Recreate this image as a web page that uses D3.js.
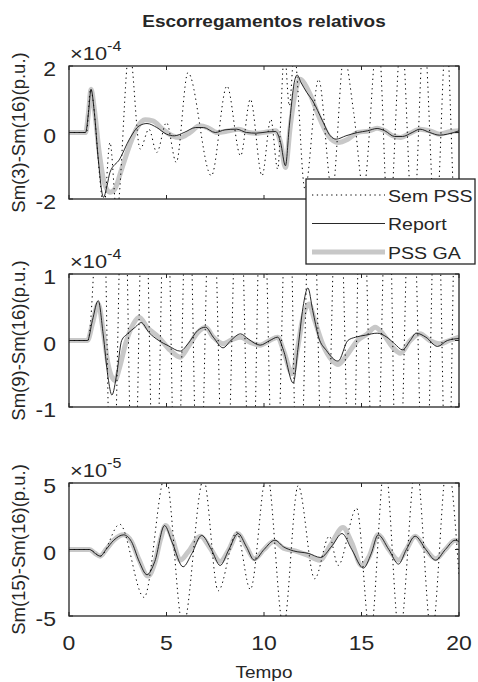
<!DOCTYPE html>
<html>
<head>
<meta charset="utf-8">
<script src="https://cdnjs.cloudflare.com/ajax/libs/d3/7.8.5/d3.min.js"></script>
<style>
  body { margin: 0; background: #fff; }
  text { font-family: "Liberation Sans", Arial, sans-serif; fill: #262626; }
</style>
</head>
<body>
<div id="chart"></div>
<script>
// ---- data (t in s, values in units of the panel exponent) ----
var title = "Escorregamentos relativos";
var xLabel = "Tempo";
var xTicks = [0, 5, 10, 15, 20];
var legendNames = ["Sem PSS", "Report", "PSS GA"];

var yLabels = ["Sm(3)-Sm(16)(p.u.)", "Sm(9)-Sm(16)(p.u.)", "Sm(15)-Sm(16)(p.u.)"];
var exponents = ["-4", "-4", "-5"];
var yDomains = [[-2, 2], [-1, 1], [-5, 5]];
var yTicks = [[-2, 0, 2], [-1, 0, 1], [-5, 0, 5]];

// panel 1 : Sm(3)-Sm(16), x1e-4
var semTop = [[0,0],[0.9,0],[1.1,1.3],[1.8,-2.2],[2.1,-0.3],[2.45,-2.4],[3.1,2.5],[3.65,-0.5],[4.1,0.1],[4.5,-0.6],
  [5.0,0.3],[5.5,-0.9],[6.1,1.8],[7.3,-1.3],[8.1,1.4],[8.8,-0.7],[9.3,1.0],[9.9,-1.3],[10.35,0.4],[10.7,-1.1],
  [11.05,2.4],[11.3,0.8],[11.55,2.4],[12.1,-1.7],[12.8,1.6],[13.5,-1.8],[14.1,2.3],[14.6,0.6],[15.1,-1.7],
  [15.85,3],[16.4,-3],[17.05,3],[17.65,-3],[18.2,3],[18.8,-3],[19.35,3],[19.85,-3],[20,-2]];
var reportTop = [[0,0],[0.85,0],[1.0,0.6],[1.13,1.3],[1.3,0.6],[1.5,-0.8],[1.77,-1.95],[1.95,-1.6],[2.1,-1.2],
  [2.6,-0.8],[3.1,-0.2],[3.6,0.2],[4.0,0.27],[4.5,0.15],[5.0,-0.05],[5.4,-0.1],[5.9,0.0],[6.5,0.15],[6.9,0.15],
  [7.5,0.0],[8.0,0.08],[8.6,0.1],[9.1,0.0],[9.6,-0.02],[10.2,0.02],[10.6,0.03],[10.85,-0.3],[11.1,-1.0],[11.3,0.2],
  [11.55,1.5],[11.7,1.73],[11.9,1.5],[12.2,1.2],[12.5,0.95],[13.0,0.35],[13.4,-0.1],[13.7,-0.2],[14.2,-0.1],
  [14.8,0.0],[15.3,0.05],[15.8,0.12],[16.2,0.05],[16.7,-0.12],[17.1,-0.12],[17.6,0.0],[18.0,0.1],[18.5,0.0],
  [19.0,-0.08],[19.4,-0.05],[20,0.05]];
var gaTop = [[0,0],[0.85,0],[1.0,0.6],[1.13,1.3],[1.3,0.7],[1.55,-0.6],[1.8,-1.5],[2.1,-1.8],[2.35,-1.7],[2.7,-1.1],
  [3.1,-0.4],[3.5,0.15],[3.9,0.38],[4.3,0.35],[4.8,0.1],[5.3,-0.1],[5.7,-0.15],[6.2,0.0],[6.7,0.2],[7.1,0.15],
  [7.6,0.0],[8.2,0.05],[8.7,0.1],[9.2,0.0],[9.7,-0.02],[10.2,0.02],[10.6,0.05],[10.85,-0.3],[11.1,-1.05],[11.35,0.2],
  [11.6,1.2],[11.85,1.6],[12.1,1.45],[12.4,1.1],[12.8,0.5],[13.3,-0.1],[13.8,-0.3],[14.3,-0.2],[14.8,0.0],
  [15.4,0.05],[15.8,0.13],[16.2,0.05],[16.6,-0.1],[17.0,-0.15],[17.5,-0.02],[18.0,0.1],[18.5,0.05],[19.0,-0.05],
  [19.5,0.02],[20,0.05]];

// panel 2 : Sm(9)-Sm(16), x1e-4
var semMid = [[0,0],[0.97,0],[1.7,3],[2.2,-3],[2.8,3],[3.3,-3],[3.85,3],[4.4,-3],[4.97,3],[5.5,-3],[6.1,3],
  [6.65,-3],[7.3,3],[8.0,-3],[8.7,3],[9.35,-3],[9.9,3],[10.55,-3],[11.25,3],[11.75,-3],[12.45,3],[13.1,-3],
  [13.8,3],[14.5,-3],[15.0,3],[15.7,-3],[16.35,3],[16.85,-3],[17.55,3],[18.25,-3],[18.85,3],[19.4,-3],[19.9,3],[20,2.5]];
var reportMid = [[0,0],[0.95,0],[1.2,0.3],[1.5,0.6],[1.75,0.1],[2.0,-0.55],[2.2,-0.82],[2.45,-0.5],[2.7,0.0],
  [3.0,0.1],[3.4,0.2],[3.7,0.27],[4.1,0.12],[4.6,0.0],[5.1,-0.08],[5.7,-0.16],[6.1,-0.05],[6.6,0.15],[7.0,0.2],
  [7.4,0.05],[7.9,-0.11],[8.3,0.0],[8.8,0.1],[9.2,0.02],[9.8,-0.07],[10.3,0.0],[10.7,0.05],[11.0,-0.15],[11.5,-0.64],
  [11.75,-0.1],[12.0,0.5],[12.25,0.79],[12.5,0.45],[12.8,0.05],[13.2,-0.15],[13.8,-0.31],[14.3,0.0],[14.7,0.05],
  [15.2,0.08],[15.8,0.11],[16.3,0.05],[16.7,-0.05],[17.1,-0.14],[17.5,0.0],[17.8,0.11],[18.3,0.05],[18.9,-0.09],
  [19.4,0.0],[20,0.03]];
var gaMid = [[0,0],[0.95,0],[1.2,0.25],[1.5,0.55],[1.75,0.15],[2.0,-0.35],[2.35,-0.6],[2.6,-0.4],[2.9,-0.05],
  [3.3,0.25],[3.6,0.35],[4.0,0.2],[4.6,0.05],[5.2,-0.15],[5.7,-0.25],[6.1,-0.1],[6.6,0.12],[7.0,0.2],[7.4,0.05],
  [7.9,-0.05],[8.4,0.02],[8.8,0.05],[9.3,-0.03],[9.8,-0.07],[10.3,0.0],[10.7,0.05],[11.0,-0.15],[11.45,-0.5],
  [11.7,-0.15],[12.0,0.35],[12.3,0.55],[12.6,0.3],[13.0,-0.05],[13.5,-0.3],[13.8,-0.36],[14.3,-0.2],[14.8,0.0],
  [15.3,0.1],[15.7,0.2],[16.1,0.1],[16.6,-0.1],[17.0,-0.19],[17.5,0.0],[18.0,0.1],[18.5,0.0],[19.0,-0.05],
  [19.5,0.0],[20,0.05]];

// panel 3 : Sm(15)-Sm(16), x1e-5
var semBot = [[0,0],[1.05,0],[1.6,-0.5],[2.6,1.9],[3.85,-3.6],[4.95,5.6],[5.85,-5.8],[6.9,5.3],[7.65,-3.1],
  [8.6,1.3],[9.3,-3.0],[10.15,5.8],[11.0,-5.8],[11.75,4.8],[12.6,-2.2],[13.35,1.0],[13.8,-1.2],[14.75,3.1],
  [15.45,-6.5],[16.2,6.5],[16.95,-6.5],[17.8,6.5],[18.6,-6.5],[19.4,6.5],[20,-2]];
var reportBot = [[0,0],[1.05,0],[1.35,-0.3],[1.6,-0.5],[1.9,0.0],[2.3,0.7],[2.8,1.1],[3.2,0.6],[3.6,-0.9],
  [4.0,-1.9],[4.4,-0.9],[4.9,1.8],[5.3,0.5],[5.85,-1.3],[6.3,-0.3],[6.8,1.06],[7.3,0.0],[7.75,-1.2],[8.2,0.0],
  [8.67,1.2],[9.1,0.2],[9.5,-0.8],[10.0,0.0],[10.56,0.7],[11.0,0.2],[11.5,-0.1],[12.3,-0.3],[12.9,-0.6],
  [13.5,0.3],[14.0,1.2],[14.5,0.0],[15.1,-1.4],[15.5,-0.3],[15.85,1.1],[16.4,0.0],[16.9,-1.1],[17.3,0.0],
  [17.75,1.0],[18.3,0.0],[18.8,-0.8],[19.3,0.0],[19.8,0.7],[20,0.6]];
var gaBot = [[0,0],[1.05,0],[1.35,-0.3],[1.6,-0.5],[1.9,0.0],[2.3,0.7],[2.8,1.1],[3.2,0.6],[3.6,-0.8],
  [4.05,-2.0],[4.4,-1.0],[4.7,0.8],[4.95,1.8],[5.3,0.8],[5.7,-0.8],[6.1,-0.2],[6.75,1.0],[7.2,0.2],[7.75,-0.9],
  [8.2,0.0],[8.65,1.2],[9.1,0.2],[9.5,-0.7],[10.0,0.0],[10.5,0.6],[11.0,0.1],[11.6,-0.1],[12.2,-0.4],[12.85,-0.8],
  [13.4,0.3],[14.05,1.65],[14.5,0.5],[15.0,-1.2],[15.4,-0.5],[15.85,1.1],[16.4,0.0],[16.9,-0.8],[17.3,0.0],
  [17.75,1.0],[18.3,0.0],[18.8,-0.7],[19.3,0.0],[19.8,0.7],[20,0.6]];

var semData = [semTop, semMid, semBot];
var reportData = [reportTop, reportMid, reportBot];
var gaData = [gaTop, gaMid, gaBot];

// ---- layout ----
var W = 478, H = 682;
var left = 69, right = 459;
var panelTop = [66, 274, 483];
var panelH = 133;
var sx = 1.15;              // horizontal stretch of the original bitmap text
var axisCol = "#262626";
var gaCol = "#c8c8c8";

var svg = d3.select("#chart").append("svg")
    .attr("width", W)
    .attr("height", H);

var x = d3.scaleLinear().domain([0, 20]).range([left, right]);

function stretchText(g, tx, ty, str, size, anchor) {
    return g.append("text")
        .attr("transform", "translate(" + tx + "," + ty + ") scale(" + sx + ",1)")
        .attr("text-anchor", anchor || "start")
        .style("font-size", size + "px")
        .text(str);
}

/*Title*/
stretchText(svg, (left + right) / 2, 27, title, 16.5, "middle").style("font-weight", "bold");

var line = d3.line().curve(d3.curveMonotoneX);

panelTop.forEach(function(top, i) {
    var y = d3.scaleLinear().domain(yDomains[i]).range([top + panelH, top]);
    line.x(function(d) { return x(d[0]); }).y(function(d) { return y(d[1]); });

    svg.append("clipPath").attr("id", "clip" + i)
        .append("rect")
        .attr("x", left).attr("y", top)
        .attr("width", right - left).attr("height", panelH);

    var plot = svg.append("g").attr("clip-path", "url(#clip" + i + ")");

    plot.append("path")
        .attr("d", line(gaData[i]))
        .attr("fill", "none")
        .attr("stroke", gaCol)
        .attr("stroke-width", 5)
        .attr("stroke-linejoin", "round");

    plot.append("path")
        .attr("d", line(semData[i]))
        .attr("fill", "none")
        .attr("stroke", "#000")
        .attr("stroke-width", 1)
        .attr("stroke-dasharray", "1.3,3.5");

    plot.append("path")
        .attr("d", line(reportData[i]))
        .attr("fill", "none")
        .attr("stroke", "#111")
        .attr("stroke-width", 0.9);

    /*Axes: ticks inside, box all round*/
    var ax = svg.append("g");
    xTicks.forEach(function(t) {
        ax.append("line").attr("x1", x(t)).attr("x2", x(t))
            .attr("y1", top + panelH).attr("y2", top + panelH - 4)
            .attr("stroke", axisCol);
        ax.append("line").attr("x1", x(t)).attr("x2", x(t))
            .attr("y1", top).attr("y2", top + 4)
            .attr("stroke", axisCol);
    });
    yTicks[i].forEach(function(v) {
        ax.append("line").attr("x1", left).attr("x2", left + 4)
            .attr("y1", y(v)).attr("y2", y(v)).attr("stroke", axisCol);
        ax.append("line").attr("x1", right).attr("x2", right - 4)
            .attr("y1", y(v)).attr("y2", y(v)).attr("stroke", axisCol);
        stretchText(ax, 56, y(v) + 10, v < 0 ? "-" + Math.abs(v) : String(v), 20, "end");
    });
    ax.append("rect")
        .attr("x", left).attr("y", top)
        .attr("width", right - left).attr("height", panelH)
        .attr("fill", "none")
        .attr("stroke", axisCol)
        .attr("stroke-width", 1.3);

    /*Exponent ×10^n*/
    var ex = stretchText(ax, 70, top - 6, "\u00d710", 19, "start");
    ex.append("tspan").attr("dy", -9).style("font-size", "14px").text(exponents[i]);

    /*Y label*/
    svg.append("text")
        .attr("transform", "translate(25," + (top + panelH / 2) + ") rotate(-90)")
        .attr("text-anchor", "middle")
        .style("font-size", "18.5px")
        .text(yLabels[i]);

    if (i === 2) {
        xTicks.forEach(function(t) {
            stretchText(ax, x(t), 650, String(t), 20, "middle");
        });
    }
});

/*X label*/
stretchText(svg, (left + right) / 2, 678, xLabel, 16.5, "middle");

/*Legend*/
var lg = svg.append("g");
lg.append("rect")
    .attr("x", 306).attr("y", 179)
    .attr("width", 169).attr("height", 85)
    .attr("fill", "#fff")
    .attr("stroke", axisCol)
    .attr("stroke-width", 1.3);
var legendStyles = [
    { stroke: "#000", width: 1, dash: "1.3,3.5" },
    { stroke: "#111", width: 0.9, dash: null },
    { stroke: gaCol, width: 5, dash: null }
];
legendNames.forEach(function(name, k) {
    var ly = 195 + k * 28.5;
    lg.append("line")
        .attr("x1", 312).attr("x2", 385)
        .attr("y1", ly).attr("y2", ly)
        .attr("stroke", legendStyles[k].stroke)
        .attr("stroke-width", legendStyles[k].width)
        .attr("stroke-dasharray", legendStyles[k].dash);
    stretchText(lg, 388, ly + 6.5, name, 17, "start");
});
</script>
</body>
</html>
